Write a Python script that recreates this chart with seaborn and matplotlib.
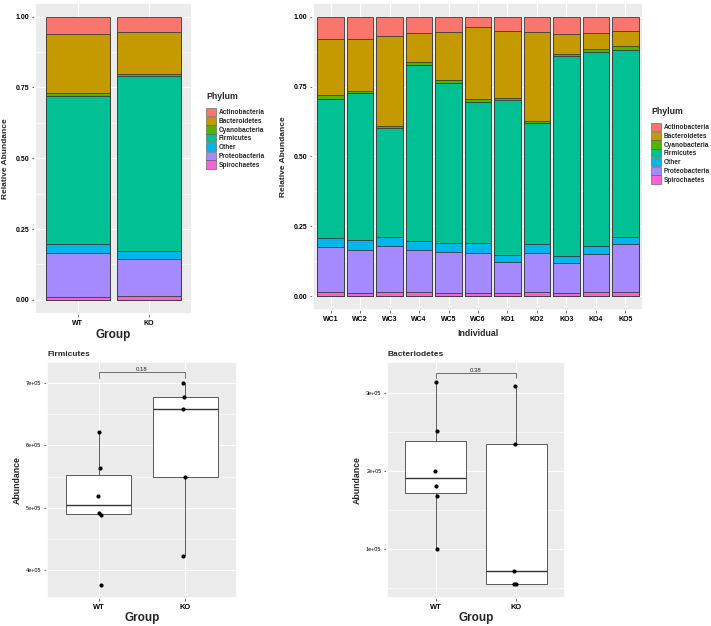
import numpy as np
import pandas as pd
import matplotlib
matplotlib.use("Agg")
import matplotlib.pyplot as plt
from matplotlib.patches import Patch
from matplotlib.ticker import MultipleLocator, FuncFormatter
import seaborn as sns

# legend / stack order (top of the stack first)
phyla = ["Actinobacteria", "Bacteroidetes", "Cyanobacteria", "Firmicutes",
         "Other", "Proteobacteria", "Spirochaetes"]
phylum_colors = ["#F8766D", "#C49A00", "#53B400", "#00C094", "#00B6EB", "#A58AFF", "#FB61D7"]

groups = ["WT", "KO"]
group_actino = [0.062, 0.055]
group_bact = [0.209, 0.147]
group_cyano = [0.009, 0.008]
group_firm = [0.522, 0.616]
group_other = [0.033, 0.029]
group_proteo = [0.154, 0.131]
group_spiro = [0.011, 0.014]

individuals = ["WC1", "WC2", "WC3", "WC4", "WC5", "WC6", "KO1", "KO2", "KO3", "KO4", "KO5"]
ind_actino = [0.079, 0.081, 0.070, 0.058, 0.056, 0.038, 0.050, 0.054, 0.062, 0.058, 0.051]
ind_bact = [0.203, 0.186, 0.321, 0.104, 0.171, 0.257, 0.240, 0.319, 0.071, 0.057, 0.054]
ind_cyano = [0.014, 0.008, 0.009, 0.010, 0.010, 0.010, 0.008, 0.007, 0.008, 0.012, 0.013]
ind_firm = [0.496, 0.526, 0.388, 0.632, 0.573, 0.506, 0.555, 0.435, 0.715, 0.693, 0.670]
ind_other = [0.034, 0.036, 0.034, 0.033, 0.034, 0.036, 0.024, 0.030, 0.026, 0.029, 0.027]
ind_proteo = [0.161, 0.153, 0.165, 0.150, 0.146, 0.142, 0.113, 0.142, 0.108, 0.135, 0.169]
ind_spiro = [0.013, 0.010, 0.013, 0.013, 0.010, 0.011, 0.010, 0.013, 0.010, 0.016, 0.016]

# absolute abundance per sample
firm_wt = [6.22e5, 5.64e5, 5.19e5, 4.91e5, 4.89e5, 3.76e5]
firm_ko = [7.00e5, 6.78e5, 6.59e5, 5.49e5, 4.23e5]
bact_wt = [3.14e5, 2.52e5, 2.00e5, 1.81e5, 1.68e5, 1.00e5]
bact_ko = [3.09e5, 2.35e5, 0.72e5, 0.545e5, 0.545e5]
p_values = ["0.18", "0.38"]

sns.set_theme(style="darkgrid", rc={"axes.facecolor": "#EBEBEB", "grid.color": "white",
                                    "grid.linewidth": 0.8})
plt.rcParams["font.family"] = ["Liberation Sans", "DejaVu Sans"]

fig = plt.figure(figsize=(7.11, 6.26), dpi=100)
W, H = 711, 626


def add_ax(x0, y0, x1, y1):
    return fig.add_axes([x0 / W, 1 - y1 / H, (x1 - x0) / W, (y1 - y0) / H])


def stacked(ax, cats, values):
    tab = pd.DataFrame(values, index=phyla, columns=cats)
    tops = tab[::-1].cumsum()[::-1]  # top edge of each layer
    for ph, col in zip(phyla, phylum_colors):
        sns.barplot(x=cats, y=tops.loc[ph].values, color=col, saturation=1, width=0.9,
                    edgecolor="#3a3a3a", linewidth=0.6, errorbar=None, ax=ax)
    ax.set_xlim(-0.6, len(cats) - 0.4)
    ax.set_ylim(-0.05, 1.05)
    ax.set_yticks([0, 0.25, 0.5, 0.75, 1.0])
    ax.yaxis.set_major_formatter(FuncFormatter(lambda v, p: f"{v:.2f}"))
    ax.yaxis.set_minor_locator(MultipleLocator(0.125))
    ax.grid(which="minor", axis="y", color="white", linewidth=0.4)
    ax.xaxis.grid(True)
    ax.set_axisbelow(True)
    ax.tick_params(length=2, width=0.5, color="#333333", left=True, bottom=True, pad=2)
    for lab in ax.get_xticklabels() + ax.get_yticklabels():
        lab.set_fontsize(5)
        lab.set_fontweight("bold")
        lab.set_color("black")


def phylum_legend(ax, x, y):
    handles = [Patch(facecolor=c, edgecolor="#555555", linewidth=0.4) for c in phylum_colors]
    leg = ax.legend(handles, phyla, title="Phylum", loc="upper left",
                    bbox_to_anchor=(x / W, 1 - y / H), bbox_transform=fig.transFigure,
                    frameon=False, title_fontproperties={"weight": "bold", "size": 6.3},
                    handlelength=1.6, handleheight=1.6, labelspacing=0.05, handletextpad=0.4,
                    borderaxespad=0, borderpad=0, alignment="left",
                    prop={"weight": "bold", "size": 4.7})
    leg._legend_box.sep = 5  # gap between title and keys


# --- top left: group composition
ax1 = add_ax(35, 2.5, 192, 314)
stacked(ax1, groups, [group_actino, group_bact, group_cyano, group_firm,
                      group_other, group_proteo, group_spiro])
ax1.set_xlabel("Group", fontsize=8.5, fontweight="bold", labelpad=2)
ax1.set_ylabel("Relative Abundance", fontsize=6, fontweight="bold", labelpad=5)
phylum_legend(ax1, 206, 92)

# --- top right: individual composition
ax2 = add_ax(313, 2.7, 643, 310)
stacked(ax2, individuals, [ind_actino, ind_bact, ind_cyano, ind_firm,
                           ind_other, ind_proteo, ind_spiro])
ax2.set_xlabel("Individual", fontsize=6.3, fontweight="bold", labelpad=5)
ax2.set_ylabel("Relative Abundance", fontsize=6, fontweight="bold", labelpad=5)
phylum_legend(ax2, 651, 107)


# --- bottom: boxplots
def box_panel(ax, wt, ko, title, pval, ylim, major, bracket):
    df = pd.DataFrame({"Group": ["WT"] * len(wt) + ["KO"] * len(ko),
                       "Abundance": wt + ko})
    sns.boxplot(data=df, x="Group", y="Abundance", order=groups, color="white",
                linecolor="#5a5a5a", linewidth=0.7, width=0.75, showfliers=False,
                showcaps=False, saturation=1,
                medianprops={"color": "#333333", "linewidth": 1.0}, ax=ax)
    np.random.seed(3)
    sns.stripplot(data=df, x="Group", y="Abundance", order=groups, color="black",
                  size=3, jitter=0.03, ax=ax)
    ax.set_xlim(-0.6, 1.6)
    ax.set_ylim(*ylim)
    ax.yaxis.set_major_locator(MultipleLocator(major))
    ax.yaxis.set_minor_locator(MultipleLocator(major / 2))
    ax.yaxis.set_major_formatter(FuncFormatter(lambda v, p: f"{v:.0e}"))
    ax.grid(which="minor", axis="y", color="white", linewidth=0.4)
    ax.xaxis.grid(True)
    ax.set_axisbelow(True)
    ax.tick_params(length=2, width=0.5, color="#333333", left=True, bottom=True, pad=2)
    for lab in ax.get_yticklabels():
        lab.set_fontsize(4)
        lab.set_color("black")
    for lab in ax.get_xticklabels():
        lab.set_fontsize(5.4)
        lab.set_fontweight("bold")
        lab.set_color("black")
    ax.set_xlabel("Group", fontsize=8.5, fontweight="bold", labelpad=1)
    ax.set_ylabel("Abundance", fontsize=6.3, fontweight="bold", labelpad=3)
    ax.set_title(title, loc="left", fontsize=6, fontweight="bold", pad=4)
    top, tip = bracket
    ax.plot([0, 0, 1, 1], [tip, top, top, tip], color="#5a5a5a", linewidth=0.6)
    ax.text(0.5, top, pval, ha="center", va="bottom", fontsize=4.3)


ax3 = add_ax(47, 362, 237, 598)
box_panel(ax3, firm_wt, firm_ko, "Firmicutes", p_values[0], (3.55e5, 7.34e5), 1e5,
          (7.18e5, 7.08e5))

ax4 = add_ax(387, 362, 565, 598)
box_panel(ax4, bact_wt, bact_ko, "Bacteriodetes", p_values[1], (0.37e5, 3.40e5), 1e5,
          (3.257e5, 3.197e5))

fig.savefig("out.png", dpi=100)
